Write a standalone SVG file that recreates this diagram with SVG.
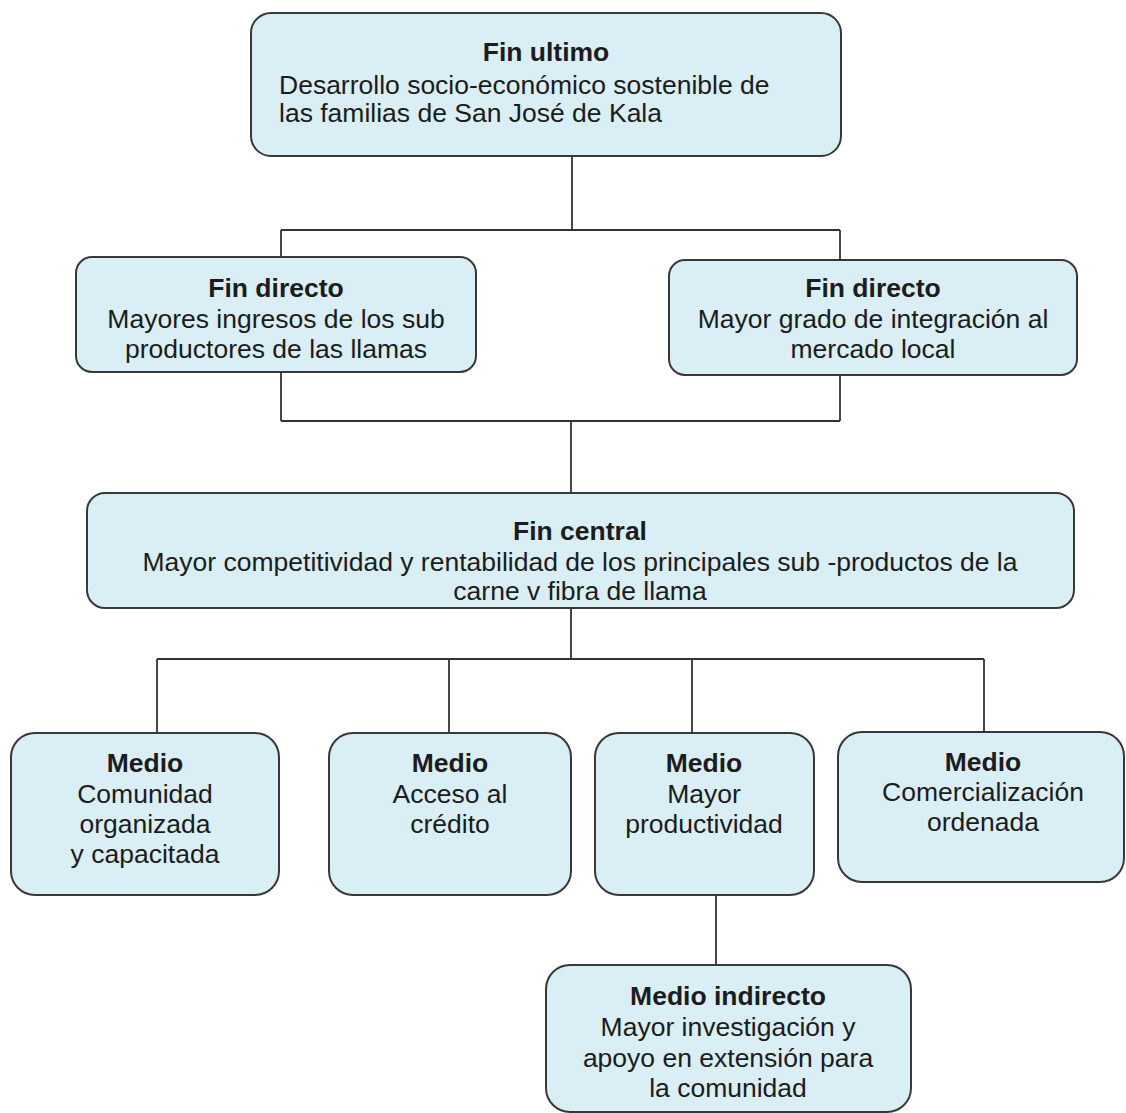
<svg xmlns="http://www.w3.org/2000/svg" width="1126" height="1113" viewBox="0 0 1126 1113">
  <style>
    .box { fill: #d9eef5; stroke: #383838; stroke-width: 2; }
    .link { fill: none; stroke: #333333; stroke-width: 1.8; }
    text { font-family: "Liberation Sans", Arial, sans-serif; font-size: 26.5px; fill: #1c1c1c; }
    .title { font-weight: bold; }
    .c { text-anchor: middle; }
  </style>
  <rect width="1126" height="1113" fill="#ffffff"/>

  <!-- tree connectors -->
  <g id="connectors">
    <path class="link" d="M572 156 V230 M281 230 H840 M281 230 V257 M840 230 V260"/>
    <path class="link" d="M281 372 V421 M840 375 V421 M281 421 H840 M571 421 V493"/>
    <path class="link" d="M571 608 V659 M157 659 H984 M157 659 V733 M449 659 V733 M692 659 V733 M984 659 V732"/>
    <path class="link" d="M716 895 V965"/>
  </g>

  <g id="fin-ultimo">
    <rect class="box" x="251" y="13" width="590" height="143" rx="20"/>
    <text class="title c" x="546" y="61">Fin ultimo</text>
    <text x="279" y="94">Desarrollo socio-económico sostenible de</text>
    <text x="279" y="122">las familias de San José de Kala</text>
  </g>

  <g id="fin-directo-ingresos">
    <rect class="box" x="76" y="257" width="400" height="115" rx="16"/>
    <text class="c" x="276" y="297"><tspan class="title">Fin directo</tspan></text>
    <text class="c" x="276" y="328">Mayores ingresos de los sub</text>
    <text class="c" x="276" y="358">productores de las llamas</text>
  </g>

  <g id="fin-directo-mercado">
    <rect class="box" x="669" y="260" width="408" height="115" rx="16"/>
    <text class="title c" x="873" y="297">Fin directo</text>
    <text class="c" x="873" y="328">Mayor grado de integración al</text>
    <text class="c" x="873" y="358">mercado local</text>
  </g>

  <g id="fin-central">
    <rect class="box" x="87" y="493" width="987" height="115" rx="18"/>
    <text class="title c" x="580" y="540">Fin central</text>
    <text class="c" x="580" y="571">Mayor competitividad y rentabilidad de los principales sub -productos de la</text>
    <text class="c" x="580" y="600">carne v fibra de llama</text>
  </g>

  <g id="medio-comunidad">
    <rect class="box" x="11" y="733" width="268" height="162" rx="24"/>
    <text class="title c" x="145" y="772">Medio</text>
    <text class="c" x="145" y="803">Comunidad</text>
    <text class="c" x="145" y="833">organizada</text>
    <text class="c" x="145" y="863">y capacitada</text>
  </g>

  <g id="medio-credito">
    <rect class="box" x="329" y="733" width="242" height="162" rx="24"/>
    <text class="title c" x="450" y="772">Medio</text>
    <text class="c" x="450" y="803">Acceso al</text>
    <text class="c" x="450" y="833">crédito</text>
  </g>

  <g id="medio-productividad">
    <rect class="box" x="595" y="733" width="219" height="162" rx="24"/>
    <text class="title c" x="704" y="772">Medio</text>
    <text class="c" x="704" y="803">Mayor</text>
    <text class="c" x="704" y="833">productividad</text>
  </g>

  <g id="medio-comercializacion">
    <rect class="box" x="838" y="732" width="286" height="150" rx="24"/>
    <text class="title c" x="983" y="771">Medio</text>
    <text class="c" x="983" y="801">Comercialización</text>
    <text class="c" x="983" y="831">ordenada</text>
  </g>

  <g id="medio-indirecto">
    <rect class="box" x="546" y="965" width="365" height="147" rx="24"/>
    <text class="title c" x="728" y="1005">Medio indirecto</text>
    <text class="c" x="728" y="1036">Mayor investigación y</text>
    <text class="c" x="728" y="1067">apoyo en extensión para</text>
    <text class="c" x="728" y="1097">la comunidad</text>
  </g>
</svg>
